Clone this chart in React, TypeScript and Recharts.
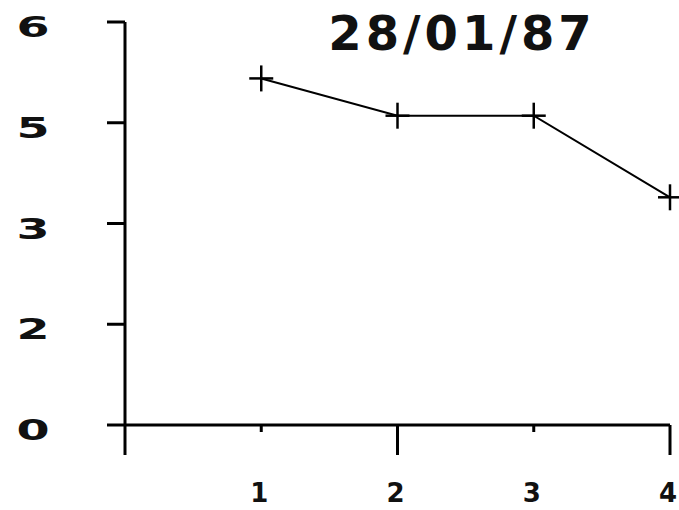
import React from 'react';
import { LineChart, Line, XAxis, YAxis } from 'recharts';

// readings per sample point, in tick-position units (0..4 on the y axis)
const samples = [1, 2, 3, 4];
const readings = [3.44, 3.07, 3.07, 2.26];

const yTickPositions = [0, 1, 2, 3, 4];
const yTickLabels = ['0', '2', '3', '5', '6'];
const xTicks = [0, 1, 2, 3, 4];
const title = '28/01/87';

const data = samples.map((s, i) => ({ x: s, y: readings[i] }));

const Cross = (props: any) => {
  const { cx, cy } = props;
  if (cx == null || cy == null) return null;
  return (
    <g>
      <line x1={cx - 12} y1={cy} x2={cx + 12} y2={cy} stroke="#000" strokeWidth={2.5} />
      <line x1={cx} y1={cy - 13} x2={cx} y2={cy + 13} stroke="#000" strokeWidth={2.5} />
    </g>
  );
};

const XTick = (props: any) => {
  const { x, y, payload } = props;
  const v = payload.value;
  const long = v % 2 === 0;
  return (
    <g>
      <line x1={x} y1={y} x2={x} y2={y + (long ? 30 : 7)} stroke="#000" strokeWidth={3} />
      {v > 0 && (
        <text x={x - 2} y={y + 77} textAnchor="middle" fontFamily="DejaVu Sans" fontWeight="bold" fontSize={26} fill="#111">
          {v}
        </text>
      )}
    </g>
  );
};

const YTick = (props: any) => {
  const { y, payload, index } = props;
  const label = yTickLabels[index] ?? String(payload.value);
  return (
    <text
      x={0}
      y={0}
      transform={`translate(33,${y + 15}) scale(1.7,1)`}
      textAnchor="middle"
      fontFamily="DejaVu Sans"
      fontSize={28}
      fontWeight={600}
      fill="#111"
    >
      {label}
    </text>
  );
};

export default function App() {
  return (
    <div style={{ position: 'absolute', left: 0, top: 0, width: 679, height: 510, background: '#fff' }}>
      <LineChart width={679} height={510} data={data} margin={{ top: 22, right: 9, bottom: 55, left: 65 }}>
        <XAxis
          dataKey="x"
          type="number"
          domain={[0, 4]}
          ticks={xTicks}
          height={30}
          axisLine={{ stroke: '#000', strokeWidth: 3 }}
          tickLine={false}
          tickSize={0}
          tickMargin={0}
          tick={<XTick />}
          interval={0}
        />
        <YAxis
          type="number"
          domain={[0, 4]}
          ticks={yTickPositions}
          width={60}
          axisLine={{ stroke: '#000', strokeWidth: 3 }}
          tickLine={{ stroke: '#000', strokeWidth: 3 }}
          tickSize={18}
          tick={<YTick />}
          interval={0}
        />
        <Line
          dataKey="y"
          stroke="#000"
          strokeWidth={2}
          dot={<Cross />}
          activeDot={false}
          isAnimationActive={false}
        />
      </LineChart>
      <svg width={679} height={80} style={{ position: 'absolute', left: 0, top: 0, pointerEvents: 'none' }}>
        <text x={462} y={50} textAnchor="middle" fontFamily="DejaVu Sans" fontWeight="bold" fontSize={48} letterSpacing={4} fill="#111">
          {title}
        </text>
      </svg>
    </div>
  );
}
